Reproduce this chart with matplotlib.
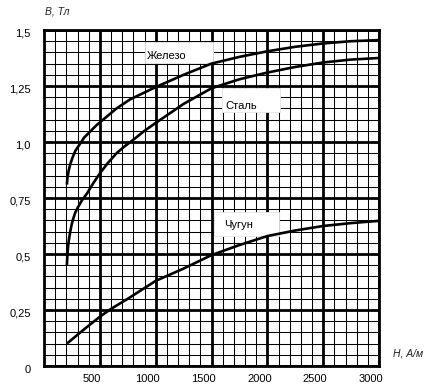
import matplotlib
matplotlib.use("Agg")
import matplotlib.pyplot as plt
import matplotlib.transforms as mtransforms
from matplotlib.patches import Rectangle
from matplotlib.ticker import MultipleLocator

plt.rcParams['font.family'] = ['Liberation Sans', 'DejaVu Sans']

# ---- data ----
iron_H = [205, 210, 220, 235, 255, 280, 320, 360, 410, 470, 530, 650, 770, 1000, 1250, 1500, 1750, 2000, 2250, 2500, 2750, 3000]
iron_B = [0.81, 0.84, 0.87, 0.90, 0.93, 0.96, 0.99, 1.02, 1.045, 1.075, 1.10, 1.15, 1.19, 1.245, 1.30, 1.35, 1.38, 1.405, 1.425, 1.44, 1.45, 1.455]

steel_H = [205, 208, 212, 218, 225, 235, 247, 260, 280, 300, 340, 385, 440, 500, 570, 650, 720, 800, 900, 1000, 1250, 1500, 1750, 2000, 2250, 2500, 2750, 3000]
steel_B = [0.45, 0.48, 0.51, 0.545, 0.57, 0.60, 0.63, 0.655, 0.685, 0.705, 0.74, 0.77, 0.815, 0.86, 0.905, 0.95, 0.98, 1.01, 1.05, 1.085, 1.17, 1.24, 1.28, 1.31, 1.335, 1.355, 1.368, 1.375]

cast_H = [205, 350, 500, 600, 750, 1000, 1250, 1500, 1750, 2000, 2250, 2500, 2750, 3000]
cast_B = [0.10, 0.16, 0.22, 0.255, 0.30, 0.38, 0.435, 0.495, 0.54, 0.58, 0.605, 0.625, 0.638, 0.648]

x_ticks = [500, 1000, 1500, 2000, 2500, 3000]
x_ticklabels = ['500', '1000', '1500', '2000', '2500', '3000']
y_ticks = [0, 0.25, 0.5, 0.75, 1.0, 1.25, 1.5]
y_ticklabels = ['0', '0,25', '0,5', '0,75', '1,0', '1,25', '1,5']

series_names = ['Железо', 'Сталь', 'Чугун']

W, H = 426, 390
fig = plt.figure(figsize=(W / 100, H / 100), dpi=100)
ax = fig.add_axes([44 / W, (H - 366) / H, 335 / W, 336 / H])

ax.set_xlim(0, 3000)
ax.set_ylim(0, 1.5)
ax.xaxis.set_major_locator(MultipleLocator(500))
ax.xaxis.set_minor_locator(MultipleLocator(100))
ax.yaxis.set_major_locator(MultipleLocator(0.25))
ax.yaxis.set_minor_locator(MultipleLocator(0.05))
ax.grid(which='major', color='black', lw=2.0)
ax.grid(which='minor', color='black', lw=0.75)
ax.set_axisbelow(True)
for s in ax.spines.values():
    s.set_linewidth(2.0)

ax.set_xticks(x_ticks)
ax.set_xticklabels(x_ticklabels)
ax.set_yticks(y_ticks)
ax.set_yticklabels(y_ticklabels)
ax.tick_params(which='both', length=0)
ax.tick_params(axis='x', pad=6, labelsize=8)
ax.tick_params(axis='y', pad=9.5, labelsize=8)

offx = mtransforms.ScaledTranslation(-0.08, 0, fig.dpi_scale_trans)
for lab in ax.get_xticklabels():
    lab.set_transform(lab.get_transform() + offx)
offy = mtransforms.ScaledTranslation(0, -0.03, fig.dpi_scale_trans)
for lab in ax.get_yticklabels():
    lab.set_transform(lab.get_transform() + offy)

# label boxes (pixel positions)
boxes = [(145, 42, 213, 63), (222, 88, 280, 112), (214, 212, 279, 236)]
texts = [(147, 59), (225, 109), (224, 228)]
for (x0, y0, x1, y1), (tx, ty), name in zip(boxes, texts, series_names):
    r = Rectangle((x0 / W, 1 - y1 / H), (x1 - x0) / W, (y1 - y0) / H,
                  transform=fig.transFigure, facecolor='white', edgecolor='#e4e4e4',
                  lw=0.6, zorder=2.5)
    ax.add_patch(r)
    fig.text(tx / W, 1 - ty / H, name, fontsize=8, ha='left', va='baseline', zorder=5)

for hx, by in [(iron_H, iron_B), (steel_H, steel_B), (cast_H, cast_B)]:
    ax.plot(hx, by, color='black', lw=1.9, zorder=3, solid_capstyle='butt',
            solid_joinstyle='round')

fig.text(45 / W, 1 - 11 / H, 'B, Тл', fontsize=7.5, style='italic', ha='left', va='center', color='#222222')
fig.text(393 / W, 1 - 354 / H, 'H, А/м', fontsize=7.5, style='italic', ha='left', va='center', color='#222222')

fig.savefig('out.png', dpi=100)
